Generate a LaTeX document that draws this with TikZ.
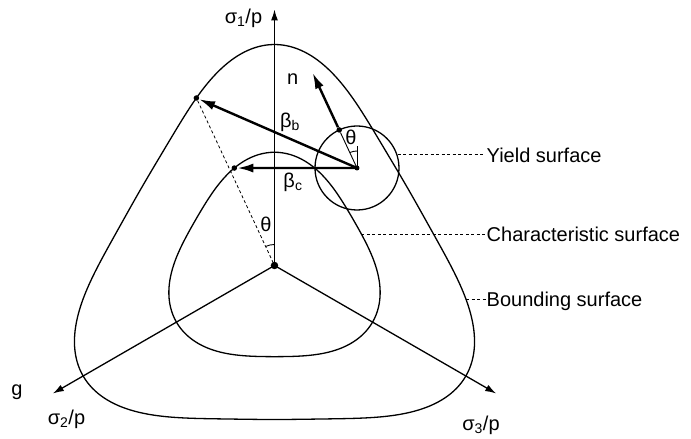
\documentclass[tikz,border=0pt]{standalone}
\usepackage{fontspec}
\setmainfont{Liberation Sans}
\usetikzlibrary{arrows.meta,positioning,calc}

\begin{document}
\begin{tikzpicture}[
		x=1pt, y=1pt,
		>={Latex[length=11pt,width=7pt]},
		declare function={
			rb(\a)=1000/(5.593-0.9845*cos(3*(\a-90))-0.0836*cos(6*(\a-90)));
			rc(\a)=1000/(9.9-1.07*cos(3*(\a-90)));
		},
		axis/.style={line width=1.3pt, ->},
		surf/.style={line width=1.3pt},
		vec/.style={line width=2.4pt, -{Latex[length=16pt,width=9pt]}},
		fine/.style={line width=0.9pt},
		guide/.style={line width=0.8pt, dash pattern=on 3pt off 2.5pt},
		lbl/.style={font=\fontsize{20}{22}\selectfont, inner sep=1pt},
		rlbl/.style={lbl, anchor=west, text depth=0pt},
		dot/.style={circle, fill, inner sep=0pt, minimum size=5.5pt}
		]
		
		\useasboundingbox (-274.5,-173.5) rectangle (416.5,265.5);
		
		% Surfaces
		\draw[surf] plot[domain=0:358, samples=180, smooth cycle] (\x:{rb(\x)});
		\draw[surf] plot[domain=0:358, samples=180, smooth cycle] (\x:{rc(\x)});
		\node[circle, draw, line width=1.3pt, minimum size=84pt, inner sep=0pt] (yield) at (82.5,97.5) {};
		
		% Axes
		\coordinate (origin) at (0,0);
		\coordinate (s1) at (90:256);
		\coordinate (s2) at (210:256);
		\coordinate (s3) at (330:256);
		\draw[axis] (origin) -- (s1);
		\draw[axis] (origin) -- (s2);
		\draw[axis] (origin) -- (s3);
		
		% Points on the surfaces
		\node[dot] (pb) at (115:{rb(115)}) {};
		\node[dot] (pc) at (112.4:{rc(112.4)}) {};
		\node[dot] (pn) at ($(yield.center)+(115:42)$) {};
		\coordinate (ntip) at ($(yield.center)+(115:105)$);
		\coordinate (ytick) at ($(yield.center)+(0,22)$);
		\node[dot, minimum size=7.5pt] (o) at (origin) {};
		
		% Vectors
		\draw[guide] (pb) -- (origin);
		\draw[vec] (yield.center) -- (pb);
		\draw[vec] (yield.center) -- (pc);
		\draw[fine] (yield.center) -- (pn);
		\draw[vec] (pn) -- (ntip);
		\draw[fine] (yield.center) -- (ytick);
		\node[dot, minimum size=5pt] at (yield.center) {};
		
		% Angles
		\draw[fine] ($(yield.center)+(90:17)$) arc[start angle=90, end angle=115, radius=17];
		\draw[fine] (90:21) arc[start angle=90, end angle=115, radius=21];
		\node[lbl] (thc) at (76.5,128.2) {θ};
		\node[lbl] (tho) at (-8.5,41.5) {θ};
		
		% Labels
		\node[lbl] (s1lbl) at (-31,247.5) {σ\textsubscript{1}/p};
		\node[lbl] (s2lbl) at (-208,-153.5) {σ\textsubscript{2}/p};
		\node[lbl] (s3lbl) at (206.5,-159.5) {σ\textsubscript{3}/p};
		\node[lbl] (glbl) at (-257.5,-126.5) {g};
		\node[lbl] (nlbl) at (18.2,186.5) {n};
		\node[lbl] (bblbl) at (15.5,143.5) {β\textsubscript{b}};
		\node[lbl] (bclbl) at (18.5,83.5) {β\textsubscript{c}};
		
		% Surface names
		\coordinate (lx) at (211,0);
		\coordinate (cpt) at (20:{rc(20)});
		\coordinate (bpt) at (-10:{rb(-10)});
		\node[rlbl] (ylbl) at (yield.18 -| lx) {Yield surface};
		\node[rlbl] (clbl) at (cpt -| lx) {Characteristic surface};
		\node[rlbl] (blbl) at (bpt -| lx) {Bounding surface};
		\draw[guide] (yield.18) -- (ylbl.west);
		\draw[guide] (cpt) -- (clbl.west);
		\draw[guide] (bpt) -- (blbl.west);
		
	\end{tikzpicture}
\end{document}
